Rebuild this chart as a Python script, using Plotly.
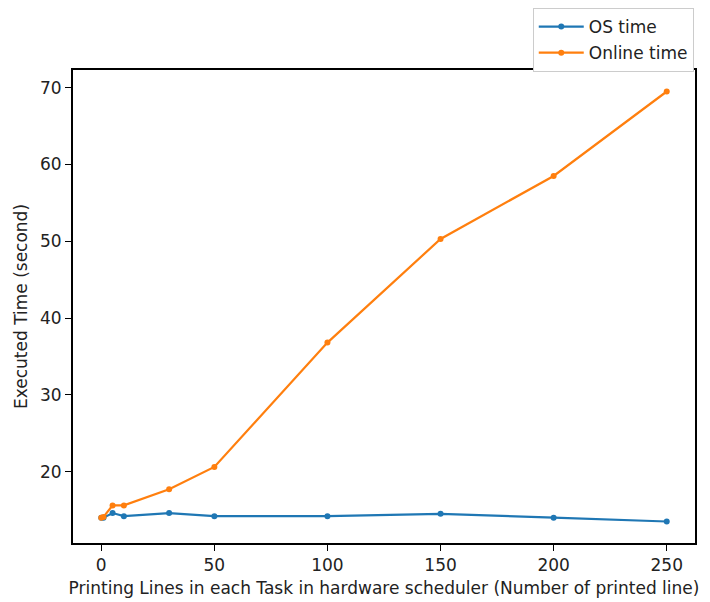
import plotly.graph_objects as go

x_lines = [0, 1, 5, 10, 30, 50, 100, 150, 200, 250]
os_time = [14.0, 14.0, 14.6, 14.2, 14.6, 14.2, 14.2, 14.5, 14.0, 13.5]
online_time = [14.0, 14.1, 15.6, 15.6, 17.7, 20.6, 36.8, 50.3, 58.5, 69.5]

x_ticks = [0, 50, 100, 150, 200, 250]
y_ticks = [20, 30, 40, 50, 60, 70]

font = "DejaVu Sans"
fs = 17
fig = go.Figure()
fig.add_trace(go.Scatter(x=x_lines, y=os_time, mode="lines+markers", name="OS time", legendgroup="a",
                         line=dict(color="#1f77b4", width=2.2), marker=dict(size=6, color="#1f77b4")))
fig.add_trace(go.Scatter(x=x_lines, y=online_time, mode="lines+markers", name="Online time", legendgroup="b",
                         line=dict(color="#ff7f0e", width=2.2), marker=dict(size=6, color="#ff7f0e")))

axis_common = dict(showline=True, linecolor="black", linewidth=1.8, mirror=True,
                   ticks="outside", ticklen=6, tickwidth=1.4, tickcolor="black",
                   showgrid=False, zeroline=False,
                   tickfont=dict(family=font, size=fs, color="#222"))
fig.update_xaxes(range=[-12.5, 262.5], tickvals=x_ticks,
                 title=dict(text="Printing Lines in each Task in hardware scheduler (Number of printed line)",
                            font=dict(family=font, size=fs, color="#222"), standoff=8),
                 **axis_common)
fig.update_yaxes(range=[10.7, 72.3], tickvals=y_ticks,
                 title=dict(text="Executed Time (second)",
                            font=dict(family=font, size=fs, color="#222"), standoff=8),
                 **axis_common)

fig.update_layout(
    width=710, height=602,
    margin=dict(l=65, r=23, t=62, b=67, autoexpand=False),
    plot_bgcolor="white", paper_bgcolor="white",
    font=dict(family=font, size=fs, color="#222"),
    legend=dict(x=0.998, xanchor="right", y=1 + 62 / 473, yanchor="top",
                itemwidth=45, tracegroupgap=1,
                bordercolor="#cccccc", borderwidth=1, bgcolor="white",
                font=dict(family=font, size=fs, color="#222")),
)
fig.write_html("out.html")
